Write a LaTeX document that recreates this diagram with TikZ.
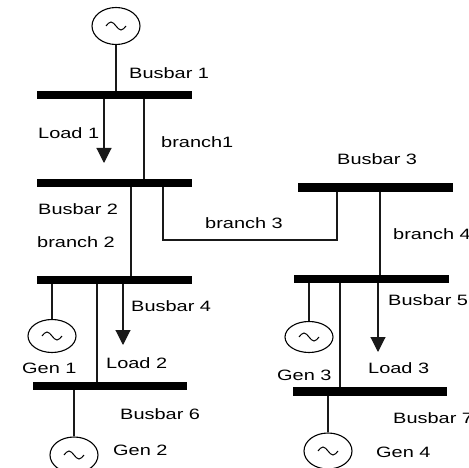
\documentclass[tikz,border=0pt]{standalone}
\usepackage{fontspec}
\setmainfont{Liberation Sans}
\usepackage{graphicx}
\usetikzlibrary{shapes.geometric,arrows.meta}
\newcommand{\lbtext}[1]{\scalebox{1.33}[1]{#1}}
\begin{document}
\begin{tikzpicture}[x=1pt,y=-1pt,
  wire/.style={line width=1.1pt,black!90},
  busbar/.style={rectangle,fill=black,inner sep=0pt,minimum height=8.5pt,minimum width=155pt},
  gen/.style={ellipse,draw,line width=1.1pt,inner sep=0pt,minimum width=48pt},
  loadarrow/.style={wire,-{Triangle[width=15pt,length=15pt]}},
  lbl/.style={anchor=west,inner sep=0pt,font=\fontsize{15}{18}\selectfont}]
\useasboundingbox (0,0) rectangle (469,468);
\fill[white] (0,0) rectangle (469,468);

% busbars
\node[busbar] (b1) at (114.5,95) {};
\node[busbar] (b2) at (114.5,183) {};
\node[busbar] (b3) at (375.5,187.5) {};
\node[busbar] (b4) at (114.5,280) {};
\node[busbar] (b5) at (371.5,279) {};
\node[busbar,minimum width=154pt] (b6) at (110,386) {};
\node[busbar,minimum width=154pt] (b7) at (370,391.5) {};

% generators
\node[gen,minimum height=37pt] (g0) at (116,26) {};
\node[gen,minimum height=33pt] (g1) at (52,336) {};
\node[gen,minimum height=36pt] (g2) at (74,455) {};
\node[gen,minimum height=31pt] (g3) at (309,337) {};
\node[gen,minimum height=36pt] (g4) at (328,451) {};
\foreach \g in {g0,g1,g2,g3,g4}{
  \draw[line width=1pt,shift={(\g.center)}] (-10,0) sin (-5,-4) cos (0,0) sin (5,4) cos (10,0);
}

% x positions
\coordinate (xbr1) at (144,0);
\coordinate (xbr2) at (131,0);
\coordinate (xm4) at (97,0);
\coordinate (xbr4) at (380,0);
\coordinate (xm5) at (340,0);
\coordinate (xbr3) at (163,0);
\coordinate (c3) at (337,240);
\coordinate (l1) at (104,163);
\coordinate (l2) at (123,345);
\coordinate (l3) at (378,352);

% generator connections
\draw[wire] (g0.south) -- (g0.south |- b1.north);
\draw[wire] (b4.south -| g1.north) -- (g1.north);
\draw[wire] (b6.south -| g2.north) -- (g2.north);
\draw[wire] (b5.south -| g3.north) -- (g3.north);
\draw[wire] (b7.south -| g4.north) -- (g4.north);

% branches
\draw[wire] (b1.south -| xbr1) -- (b2.north -| xbr1);
\draw[wire] (b2.south -| xbr2) -- (b4.north -| xbr2);
\draw[wire] (b2.south -| xbr3) |- (c3) -- (c3 |- b3.south);
\draw[wire] (b3.south -| xbr4) -- (b5.north -| xbr4);
\draw[wire] (b4.south -| xm4) -- (b6.north -| xm4);
\draw[wire] (b5.south -| xm5) -- (b7.north -| xm5);

% loads
\draw[loadarrow] (l1 |- b1.south) -- (l1);
\draw[loadarrow] (l2 |- b4.south) -- (l2);
\draw[loadarrow] (l3 |- b5.south) -- (l3);

% labels
\node[lbl] (tb1) at (129,73) {\lbtext{Busbar 1}};
\node[lbl] (tl1) at (38,133) {\lbtext{Load 1}};
\node[lbl] (tbr1) at (161,142) {\lbtext{branch1}};
\node[lbl] (tb2) at (38,209) {\lbtext{Busbar 2}};
\node[lbl] (tbr2) at (37,242) {\lbtext{branch 2}};
\node[lbl] (tbr3) at (205,223) {\lbtext{branch 3}};
\node[lbl] (tb3) at (337,159) {\lbtext{Busbar 3}};
\node[lbl] (tbr4) at (393,234) {\lbtext{branch 4}};
\node[lbl] (tb4) at (131,306) {\lbtext{Busbar 4}};
\node[lbl] (tg1) at (22,368) {\lbtext{Gen 1}};
\node[lbl] (tl2) at (106,363) {\lbtext{Load 2}};
\node[lbl] (tb6) at (120,414) {\lbtext{Busbar 6}};
\node[lbl] (tg2) at (113,450) {\lbtext{Gen 2}};
\node[lbl] (tb5) at (388,300) {\lbtext{Busbar 5}};
\node[lbl] (tg3) at (277,375) {\lbtext{Gen 3}};
\node[lbl] (tl3) at (368,368) {\lbtext{Load 3}};
\node[lbl] (tb7) at (393,418) {\lbtext{Busbar 7}};
\node[lbl] (tg4) at (376,452) {\lbtext{Gen 4}};
\end{tikzpicture}
\end{document}
